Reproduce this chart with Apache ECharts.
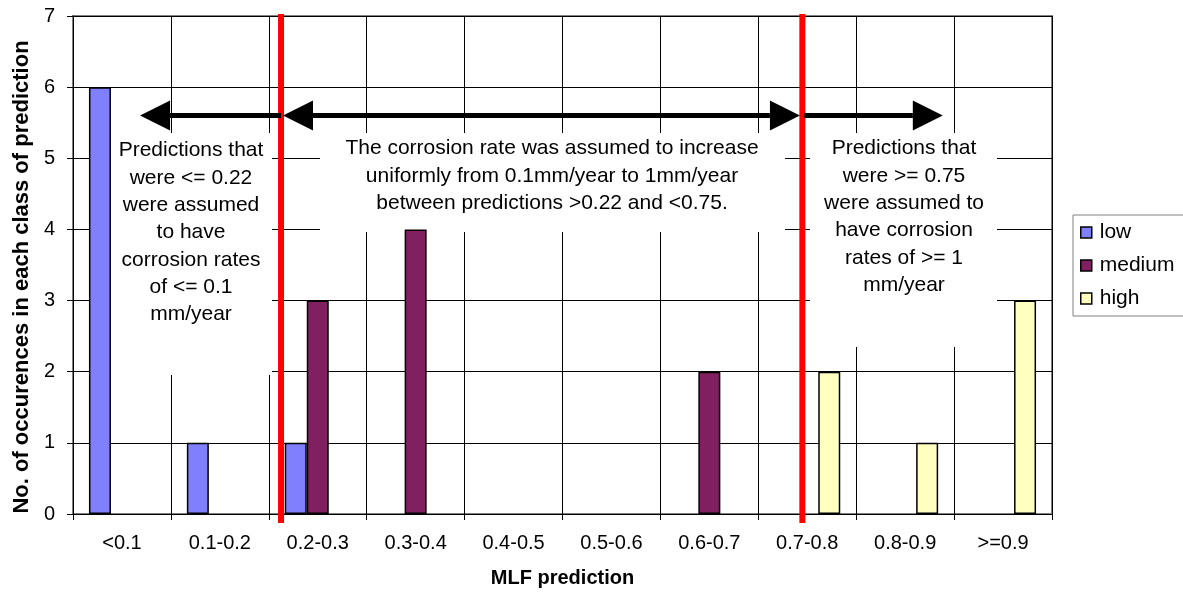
<!DOCTYPE html>
<html>
<head>
<meta charset="utf-8">
<script src="https://cdn.jsdelivr.net/npm/echarts@6/dist/echarts.min.js"></script>
<style>
  html, body { margin: 0; padding: 0; background: #fff; }
  #chart { width: 1183px; height: 597px; }
</style>
</head>
<body>
<div id="chart"></div>
<script>
// Prediction classes and the number of occurrences of each corrosion class
const categories = ['<0.1', '0.1-0.2', '0.2-0.3', '0.3-0.4', '0.4-0.5', '0.5-0.6', '0.6-0.7', '0.7-0.8', '0.8-0.9', '>=0.9'];
const lowCounts = [6, 1, 1, 0, 0, 0, 0, 0, 0, 0];
const mediumCounts = [0, 0, 3, 4, 0, 0, 2, 0, 0, 0];
const highCounts = [0, 0, 0, 0, 0, 0, 0, 2, 1, 3];
const seriesNames = ['low', 'medium', 'high'];

// Red boundaries and arrows, placed on a 0..1 scale spanning the category axis
const boundaryPositions = [0.2125, 0.745];
const arrowLevel = 5.6;
const arrowSpans = [
  { from: 0.2125, to: 0.0685, both: false },
  { from: 0.2145, to: 0.7425, both: true },
  { from: 0.747, to: 0.8885, both: false }
];

const notes = [
  'Predictions that\nwere <= 0.22\nwere assumed\nto have\ncorrosion rates\nof <= 0.1\nmm/year',
  'The corrosion rate was assumed to increase\nuniformly from 0.1mm/year to 1mm/year\nbetween predictions >0.22 and <0.75.',
  'Predictions that\nwere >= 0.75\nwere assumed to\nhave corrosion\nrates of >= 1\nmm/year'
];

const FONT = '"Liberation Sans", Arial, sans-serif';
const colors = ['#8080FF', '#802060', '#FFFFC0'];

const chart = echarts.init(document.getElementById('chart'), null, { renderer: 'canvas' });

// Empty classes get no bar, like an empty histogram bin
function barSeries(name, data, color) {
  return {
    name: name,
    type: 'bar',
    data: data.map(v => (v === 0 ? '-' : v)),
    barWidth: 22,
    barGap: '0%',
    itemStyle: { color: color, borderColor: '#000', borderWidth: 1.5 },
    emphasis: { disabled: true }
  };
}

chart.setOption({
  animation: false,
  textStyle: { fontFamily: FONT },
  grid: {
    left: 73, right: 131, top: 16, bottom: 83,
    show: true, borderColor: '#808080', borderWidth: 2, backgroundColor: 'transparent'
  },
  legend: {
    orient: 'vertical',
    left: 1073, top: 215,
    padding: [7, 30, 7, 7],
    itemGap: 12,
    itemWidth: 11, itemHeight: 11,
    icon: 'rect',
    borderColor: '#808080', borderWidth: 1,
    backgroundColor: '#fff',
    itemStyle: { borderColor: '#000', borderWidth: 1.5 },
    textStyle: { fontSize: 21, color: '#000', fontFamily: FONT, padding: [0, 0, 0, 3] },
    data: seriesNames
  },
  xAxis: [
    {
      type: 'category',
      data: categories,
      boundaryGap: true,
      axisLine: { show: true, lineStyle: { color: '#000', width: 1 } },
      axisTick: { show: true, length: 6, lineStyle: { color: '#000' } },
      axisLabel: { fontSize: 20, color: '#000', margin: 19, fontFamily: FONT },
      splitLine: { show: true, lineStyle: { color: '#000', width: 1 } },
      name: 'MLF prediction',
      nameLocation: 'middle',
      nameGap: 54,
      nameTextStyle: { fontSize: 20, fontWeight: 'bold', color: '#000', fontFamily: FONT }
    },
    { type: 'value', min: 0, max: 1, show: false }
  ],
  yAxis: {
    type: 'value',
    min: 0, max: 7, interval: 1,
    axisLine: { show: true, lineStyle: { color: '#000', width: 1 } },
    axisTick: { show: true, length: 6, lineStyle: { color: '#000' } },
    axisLabel: { fontSize: 20, color: '#000', margin: 18, fontFamily: FONT },
    splitLine: { show: true, lineStyle: { color: '#000', width: 1 } },
    name: 'No. of occurences in each class of prediction',
    nameLocation: 'middle',
    nameGap: 40,
    nameTextStyle: { fontSize: 22, fontWeight: 'bold', color: '#000', fontFamily: FONT, padding: [0, 24, 0, 0] }
  },
  series: [
    barSeries(seriesNames[0], lowCounts, colors[0]),
    barSeries(seriesNames[1], mediumCounts, colors[1]),
    barSeries(seriesNames[2], highCounts, colors[2])
  ]
});

// Annotation layer: white note boxes, red class boundaries and arrows
const px = v => chart.convertToPixel({ xAxisIndex: 1 }, v);
const py = v => chart.convertToPixel({ yAxisIndex: 0 }, v);

const graphics = [];
const yTop = py(7), yBottom = py(0);

const boxes = [
  { x: 110, y: 133, w: 162, h: 242, cx: 191, ty: 137 },
  { x: 320, y: 133, w: 465, h: 99, cx: 552, ty: 135 },
  { x: 810, y: 133, w: 187, h: 214, cx: 904, ty: 135 }
];
boxes.forEach((b, i) => {
  graphics.push({
    type: 'rect', z: 1, silent: true,
    shape: { x: b.x, y: b.y, width: b.w, height: b.h },
    style: { fill: '#fff', stroke: null }
  });
  graphics.push({
    type: 'text', z: 10, silent: true,
    x: b.cx, y: b.ty,
    style: {
      text: notes[i], fill: '#000', fontSize: 21, fontFamily: FONT,
      lineHeight: 27.3, align: 'center', verticalAlign: 'top'
    }
  });
});

boundaryPositions.forEach(p => {
  const x = px(p);
  graphics.push({
    type: 'line', z: 8, silent: true,
    shape: { x1: x, y1: yTop - 2, x2: x, y2: yBottom + 9 },
    style: { stroke: '#FF0000', lineWidth: 6 }
  });
});

const headLen = 30, headHalf = 15;
function head(tipX, y, dir) {
  // dir = -1 points left, +1 points right
  return {
    type: 'polygon', z: 9, silent: true,
    shape: { points: [[tipX, y], [tipX - dir * headLen, y - headHalf], [tipX - dir * headLen, y + headHalf]] },
    style: { fill: '#000' }
  };
}
const ay = py(arrowLevel);
arrowSpans.forEach(a => {
  const x0 = px(a.from), x1 = px(a.to);
  const dir = x1 > x0 ? 1 : -1;
  const shaftStart = a.both ? x0 + dir * headLen : x0;
  const shaftEnd = x1 - dir * headLen;
  graphics.push({
    type: 'line', z: 9, silent: true,
    shape: { x1: shaftStart, y1: ay, x2: shaftEnd, y2: ay },
    style: { stroke: '#000', lineWidth: 5 }
  });
  graphics.push(head(x1, ay, dir));
  if (a.both) graphics.push(head(x0, ay, -dir));
});

chart.setOption({ graphic: graphics });
</script>
</body>
</html>
